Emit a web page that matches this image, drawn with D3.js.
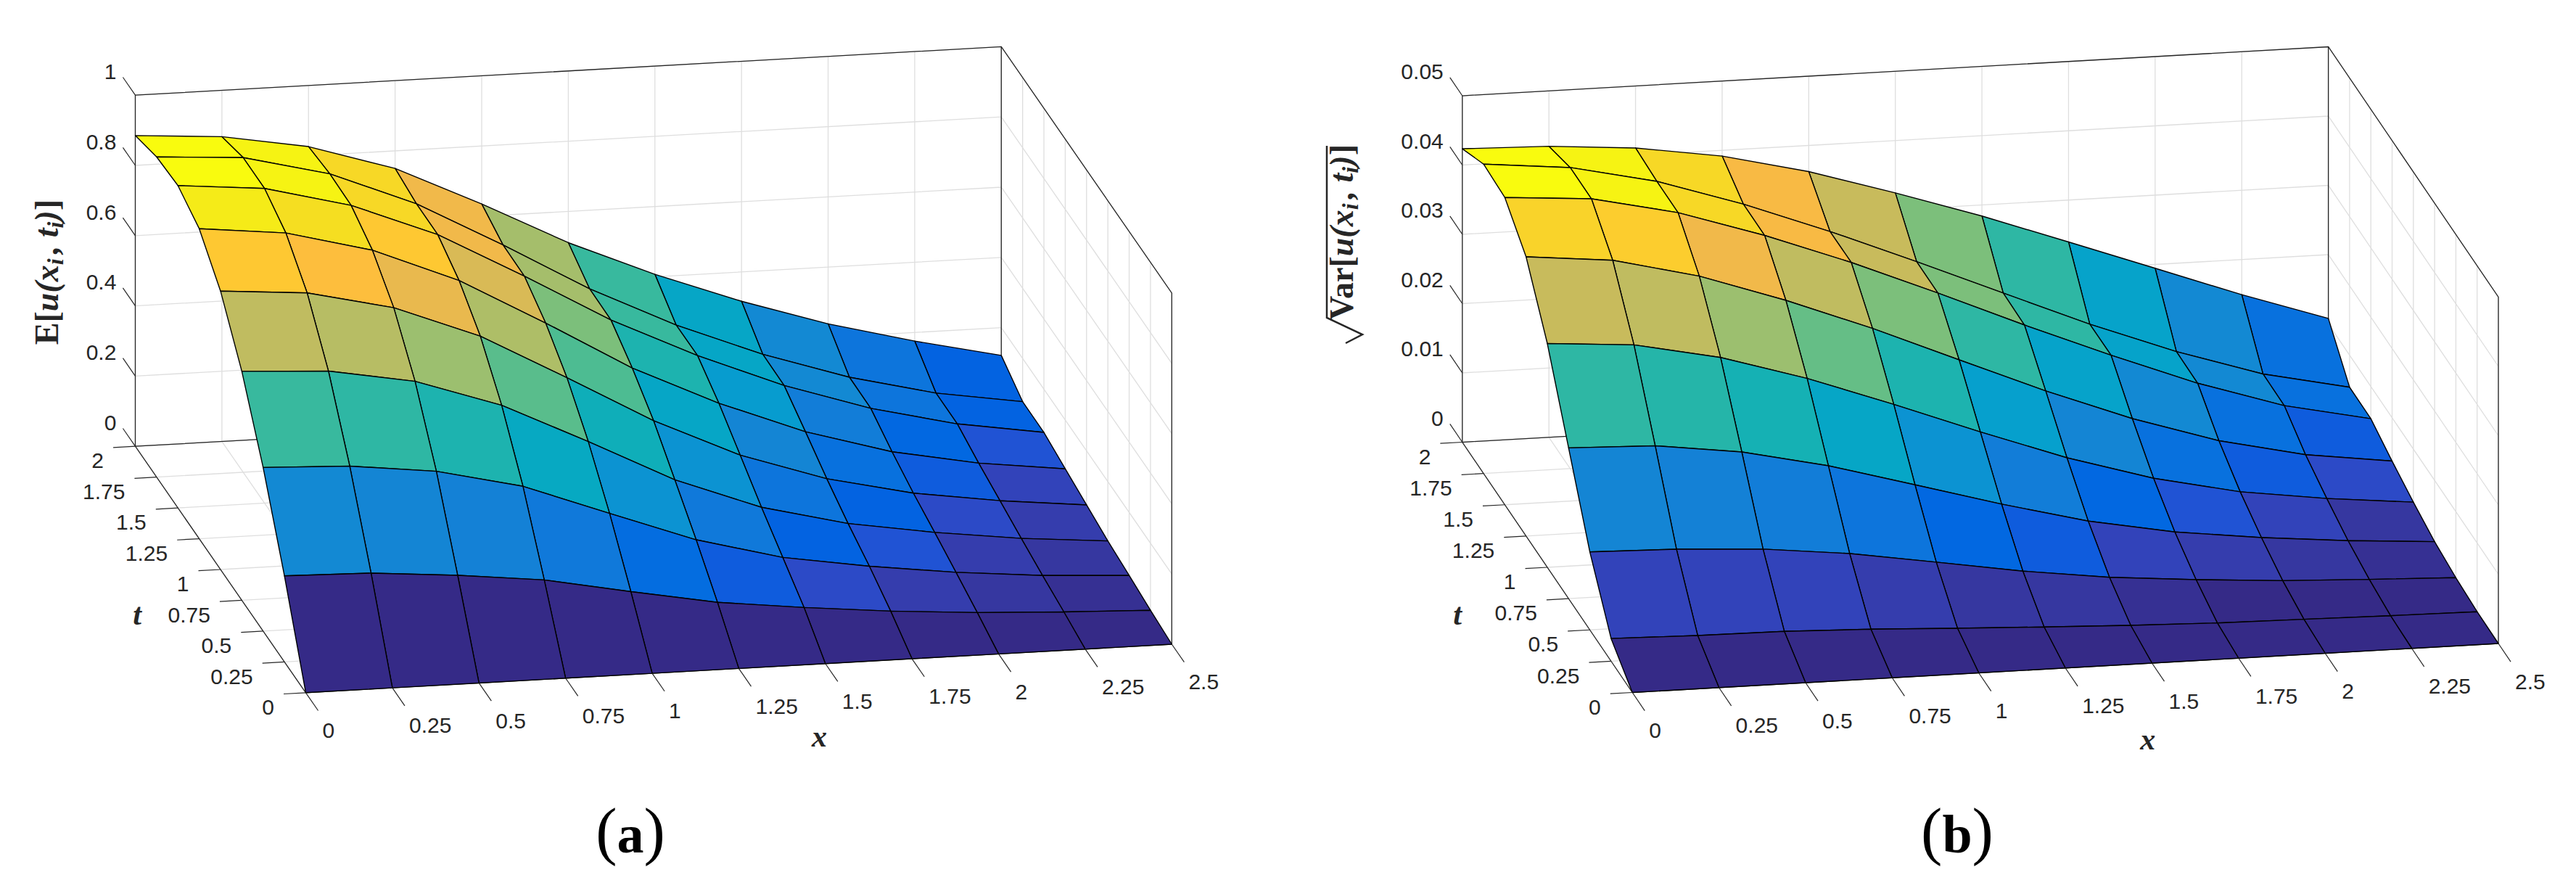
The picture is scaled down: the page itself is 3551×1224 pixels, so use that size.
<!DOCTYPE html>
<html lang="en">
<head>
    <meta charset="UTF-8">
    <title>Surface plots of mean and standard deviation</title>
    <script src="https://d3js.org/d3.v7.min.js"></script>
    <style>
        body { margin: 0; background: #fff; }
        svg { display: block; }
        .tick-label { font-family: "Liberation Sans", Arial, sans-serif; font-size: 30px; fill: #262626; }
        .math { font-family: "Liberation Serif", serif; font-weight: bold; font-style: italic; fill: #262626; }
        .caption { font-family: "Liberation Serif", serif; font-size: 88px; fill: #000; }
    </style>
</head>
<body>
    <svg width="3551" height="1224"></svg>

    <script>
        // Axis ticks
        const xTicks = [0, 0.25, 0.5, 0.75, 1, 1.25, 1.5, 1.75, 2, 2.25, 2.5];
        const tTicks = [0, 0.25, 0.5, 0.75, 1, 1.25, 1.5, 1.75, 2];
        const zTicksA = [0, 0.2, 0.4, 0.6, 0.8, 1];
        const zTicksB = [0, 0.01, 0.02, 0.03, 0.04, 0.05];

        // Surface heights, one row per t, one column per x
        const meanRows = [
            [0, 0, 0, 0, 0, 0, 0, 0, 0, 0, 0],
            [0.245, 0.239, 0.219, 0.192, 0.145, 0.1005, 0.072, 0.048, 0.030, 0.018, 0.009],
            [0.466, 0.456, 0.4275, 0.371, 0.28, 0.191, 0.127, 0.088, 0.057, 0.034, 0.0205],
            [0.652, 0.639, 0.596, 0.514, 0.397, 0.274, 0.182, 0.122, 0.083, 0.052, 0.031],
            [0.793, 0.774, 0.718, 0.623, 0.491, 0.355, 0.243, 0.162, 0.107, 0.0717, 0.046],
            [0.883, 0.857, 0.794, 0.694, 0.559, 0.417, 0.303, 0.208, 0.137, 0.091, 0.061],
            [0.918, 0.896, 0.834, 0.737, 0.605, 0.466, 0.351, 0.252, 0.173, 0.115, 0.077],
            [0.912, 0.896, 0.836, 0.737, 0.606, 0.467, 0.350, 0.253, 0.174, 0.115, 0.077],
            [0.885, 0.868, 0.826, 0.750, 0.635, 0.511, 0.407, 0.3165, 0.2385, 0.1755, 0.121]
        ];
        const stdRows = [
            [0, 0, 0, 0, 0, 0, 0, 0, 0, 0, 0],
            [0.00327, 0.0030, 0.00289, 0.0025, 0.00193, 0.0014, 0.00093, 0.00057, 0.00039, 0.0002, 0.00007],
            [0.01125, 0.01095, 0.01025, 0.0089, 0.00695, 0.00495, 0.00335, 0.0023, 0.00145, 0.00093, 0.00047],
            [0.02175, 0.02135, 0.01975, 0.01705, 0.0136, 0.0101, 0.00695, 0.00468, 0.00315, 0.002, 0.00115],
            [0.0323, 0.0314, 0.02888, 0.02515, 0.0207, 0.016, 0.01157, 0.0079, 0.00525, 0.00357, 0.00234],
            [0.0403, 0.0391, 0.0361, 0.0319, 0.02715, 0.0219, 0.0167, 0.012, 0.0081, 0.00538, 0.00375],
            [0.04435, 0.04345, 0.04075, 0.03675, 0.03215, 0.02703, 0.0217, 0.01663, 0.01188, 0.00795, 0.00535],
            [0.04465, 0.04345, 0.04075, 0.03675, 0.0321, 0.02705, 0.0218, 0.0166, 0.01193, 0.008, 0.00538],
            [0.04235, 0.042, 0.04105, 0.03918, 0.03623, 0.03245, 0.0284, 0.02395, 0.01945, 0.01493, 0.0108]
        ];

        // parula colormap, 64 levels
        const parula = ["#352a87","#363093","#3637a0","#353dad","#3243ba","#2c4ac7","#2053d4","#0f5cdd",
            "#0363e1","#0268e1","#046de0","#0871de","#0d75dc","#1079da","#127dd8","#1481d6",
            "#1485d4","#1389d3","#108ed2","#0c93d2","#0998d1","#079ccf","#06a0cd","#06a3ca",
            "#06a6c6","#07a9c2","#0aacbe","#0faeb9","#15b1b4","#1db3af","#25b5a9","#2eb7a4",
            "#38b99e","#42bb98","#4dbc92","#59bd8c","#65be86","#71bf80","#7cbf7b","#87bf77",
            "#92bf73","#9cbf6f","#a5be6b","#aebe67","#b7bd64","#c0bc60","#c8bb5c","#d1bb59",
            "#d9ba56","#e1b952","#e9b94e","#f1b94a","#f8ba44","#fdbe3d","#ffc337","#fec832",
            "#fccd2e","#f9d32a","#f7d826","#f5de21","#f5e41d","#f5eb18","#f6f313","#f9fb0e"];

        const svg = d3.select("svg");
        const axisColor = "#262626";
        const gridColor = "#dedede";
        const line = d3.line();

        // draws one oblique box plot, the box geometry comes in through opts
        function drawPanel(opts) {
            const g = svg.append("g");

            // axes are orthographic, so each data axis maps to one screen vector
            const xs = d3.scaleLinear().domain([0, 2.5]).range([0, 1]);
            const ts = d3.scaleLinear().domain([0, 2]).range([0, 1]);
            const zs = d3.scaleLinear().domain(d3.extent(opts.zTicks)).range([0, -opts.zHeight]);
            const project = (x, t, z) => [
                opts.origin[0] + xs(x) * opts.xVec[0] + ts(t) * opts.tVec[0],
                opts.origin[1] + xs(x) * opts.xVec[1] + ts(t) * opts.tVec[1] + zs(z)
            ];

            const xMax = 2.5, tMax = 2;
            const zMin = opts.zTicks[0], zMax = opts.zTicks[opts.zTicks.length - 1];

            const drawLine = (pts, color, width) => g.append("path")
                .attr("d", line(pts))
                .attr("fill", "none")
                .attr("stroke", color)
                .attr("stroke-width", width);

            // grid lines on floor and the two walls
            xTicks.forEach(x => {
                drawLine([project(x, 0, zMin), project(x, tMax, zMin), project(x, tMax, zMax)], gridColor, 1.3);
            });
            tTicks.forEach(t => {
                drawLine([project(0, t, zMin), project(xMax, t, zMin), project(xMax, t, zMax)], gridColor, 1.3);
            });
            opts.zTicks.forEach(z => {
                drawLine([project(0, tMax, z), project(xMax, tMax, z), project(xMax, 0, z)], gridColor, 1.3);
            });

            // box lines behind the surface
            drawLine([project(0, 0, zMin), project(0, tMax, zMin), project(xMax, tMax, zMin)], axisColor, 1.3);
            drawLine([project(0, tMax, zMin), project(0, tMax, zMax), project(xMax, tMax, zMax), project(xMax, 0, zMax), project(xMax, 0, zMin)], axisColor, 1.3);
            drawLine([project(xMax, tMax, zMin), project(xMax, tMax, zMax)], axisColor, 1.3);
            drawLine([project(0, 0, zMin), project(xMax, 0, zMin)], axisColor, 1.3);

            // surface faces, far ones first. colour comes from the lowest index corner
            const color = d3.scaleQuantize()
                .domain([0, d3.max(opts.rows.flat())])
                .range(parula);
            const faces = [];
            for (let j = tTicks.length - 2; j >= 0; j--) {
                for (let i = xTicks.length - 2; i >= 0; i--) {
                    faces.push({ i, j });
                }
            }
            g.append("g").selectAll("path")
                .data(faces)
                .join("path")
                .attr("d", d => line([
                    project(xTicks[d.i], tTicks[d.j], opts.rows[d.j][d.i]),
                    project(xTicks[d.i + 1], tTicks[d.j], opts.rows[d.j][d.i + 1]),
                    project(xTicks[d.i + 1], tTicks[d.j + 1], opts.rows[d.j + 1][d.i + 1]),
                    project(xTicks[d.i], tTicks[d.j + 1], opts.rows[d.j + 1][d.i])
                ]) + "Z")
                .attr("fill", d => color(opts.rows[d.j][d.i]))
                .attr("stroke", "#000")
                .attr("stroke-width", 1.4)
                .attr("stroke-linejoin", "round");

            // ticks and tick labels
            const tickX = xs.invert(0.0255), tickT = ts.invert(0.0727);
            xTicks.forEach(x => {
                const a = project(x, 0, zMin), b = project(x, -tickT, zMin);
                drawLine([a, b], axisColor, 1.2);
                g.append("text").attr("class", "tick-label")
                    .attr("x", b[0] + 6).attr("y", b[1] + 27)
                    .attr("dy", "0.35em")
                    .text(x);
            });
            tTicks.forEach(t => {
                const a = project(0, t, zMin), b = project(-tickX, t, zMin);
                drawLine([a, b], axisColor, 1.2);
                g.append("text").attr("class", "tick-label")
                    .attr("x", b[0] - 13).attr("y", b[1] + 18)
                    .attr("dy", "0.35em")
                    .attr("text-anchor", "end")
                    .text(t);
            });
            opts.zTicks.forEach(z => {
                const a = project(0, tMax, z), b = project(0, tMax + tickT, z);
                drawLine([a, b], axisColor, 1.2);
                g.append("text").attr("class", "tick-label")
                    .attr("x", b[0] - 9).attr("y", b[1] - 8)
                    .attr("dy", "0.35em")
                    .attr("text-anchor", "end")
                    .text(z);
            });

            // axis names
            g.append("text").attr("class", "math").attr("font-size", 42)
                .attr("x", opts.xLabel[0]).attr("y", opts.xLabel[1])
                .attr("dy", "0.25em").attr("text-anchor", "middle").text("x");
            g.append("text").attr("class", "math").attr("font-size", 42)
                .attr("x", opts.tLabel[0]).attr("y", opts.tLabel[1])
                .attr("dy", "0.35em").attr("text-anchor", "middle").text("t");

            // caption below the plot, the parens are taller than the letter
            const caption = g.append("text").attr("class", "caption")
                .attr("x", opts.caption[0]).attr("y", opts.caption[1])
                .attr("text-anchor", "middle");
            caption.append("tspan").text("(");
            caption.append("tspan").attr("font-weight", "bold").attr("font-size", 74).text(opts.captionLetter);
            caption.append("tspan").text(")");

            return g;
        }

        // rotated math label, upright parts and subscripts are given per piece
        function mathLabel(g, x, y, size, pieces) {
            const text = g.append("text").attr("class", "math")
                .attr("font-size", size)
                .attr("text-anchor", "middle")
                .attr("transform", `translate(${x},${y}) rotate(-90)`);
            pieces.forEach(p => {
                const span = text.append("tspan").text(p.s);
                if (p.upright) span.attr("font-style", "normal");
                if (p.sub) span.attr("font-size", size * 0.7).attr("dy", size * 0.16);
                if (p.back) span.attr("dy", -size * 0.16);
                if (p.gap) span.attr("dx", p.gap);
            });
            return text;
        }

        const panelA = drawPanel({
            rows: meanRows,
            zTicks: zTicksA,
            origin: [421.5, 954.8],
            xVec: [1193.8, -66.8],
            tVec: [-235, -339.6],
            zHeight: 484,
            xLabel: [1129.6, 1018],
            tLabel: [189, 846],
            caption: [869, 1175],
            captionLetter: "a"
        });
        mathLabel(panelA, 80, 375, 46, [
            { s: "E[", upright: true }, { s: "u(x" }, { s: "i", sub: true },
            { s: ", t", back: true, gap: 6 }, { s: "i", sub: true }, { s: ")", back: true }, { s: "]", upright: true }
        ]);

        const panelB = drawPanel({
            rows: stdRows,
            zTicks: zTicksB,
            origin: [2250.2, 954.5],
            xVec: [1193.8, -67.5],
            tVec: [-234.4, -345],
            zHeight: 477.5,
            xLabel: [2960.7, 1022.7],
            tLabel: [2009, 846.6],
            caption: [2698, 1175],
            captionLetter: "b"
        });
        mathLabel(panelB, 1865, 320, 46, [
            { s: "Var[", upright: true }, { s: "u(x" }, { s: "i", sub: true },
            { s: ", t", back: true, gap: 6 }, { s: "i", sub: true }, { s: ")", back: true }, { s: "]", upright: true }
        ]);
        // radical sign of the sqrt, with its bar above the text
        panelB.append("path")
            .attr("d", line([[1855, 473], [1878, 461], [1829, 438], [1829, 201]]))
            .attr("fill", "none")
            .attr("stroke", "#262626")
            .attr("stroke-width", 2.5);
    </script>
</body>
</html>
